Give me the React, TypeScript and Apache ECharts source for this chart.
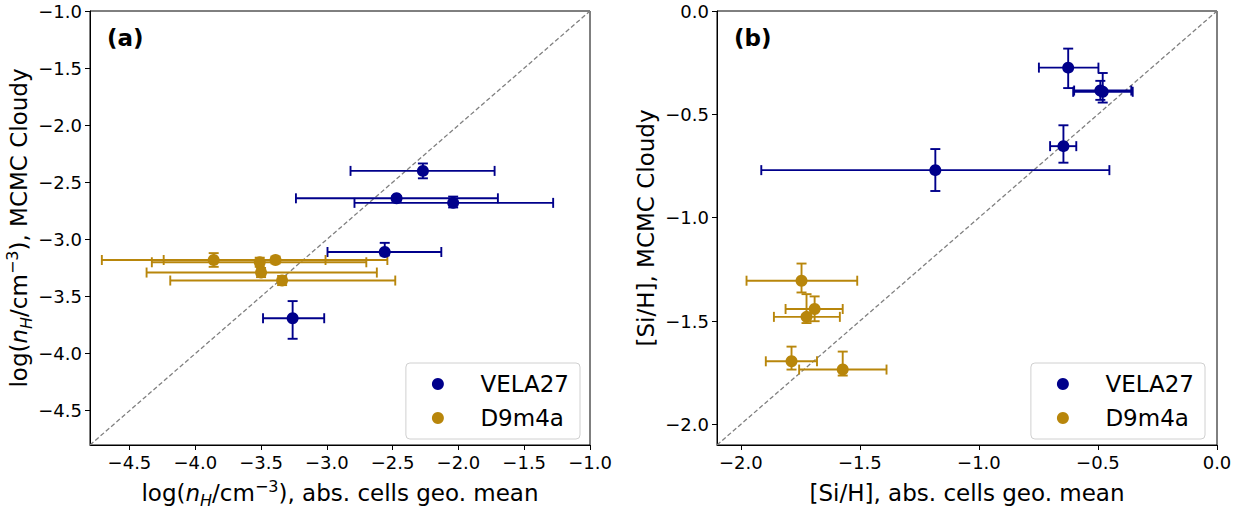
import React, { useEffect, useRef } from 'react';
import * as echarts from 'echarts';

// ---------- Panel (a): log(nH/cm^-3) ----------
const velaNx = [-2.27, -2.47, -2.04, -2.56, -3.26];
const velaNy = [-2.40, -2.64, -2.68, -3.11, -3.69];
const velaNxLo = [-2.82, -3.235, -2.79, -2.995, -3.485];
const velaNxHi = [-1.725, -1.70, -1.28, -2.13, -3.02];
const velaNyLo = [-2.465, -2.66, -2.72, -3.14, -3.87];
const velaNyHi = [-2.335, -2.62, -2.625, -3.03, -3.54];

const d9Nx = [-3.86, -3.51, -3.39, -3.50, -3.34];
const d9Ny = [-3.18, -3.20, -3.18, -3.29, -3.36];
const d9NxLo = [-4.71, -4.33, -4.24, -4.37, -4.19];
const d9NxHi = [-3.01, -2.70, -2.54, -2.62, -2.48];
const d9NyLo = [-3.24, -3.24, -3.21, -3.33, -3.40];
const d9NyHi = [-3.12, -3.16, -3.15, -3.25, -3.32];

// ---------- Panel (b): [Si/H] ----------
const velaSx = [-0.625, -0.48, -0.645, -1.183, -0.49];
const velaSy = [-0.274, -0.391, -0.654, -0.770, -0.385];
const velaSxLo = [-0.748, -0.604, -0.701, -1.914, -0.60];
const velaSxHi = [-0.498, -0.354, -0.591, -0.452, -0.36];
const velaSyLo = [-0.373, -0.443, -0.734, -0.871, -0.43];
const velaSyHi = [-0.182, -0.30, -0.553, -0.668, -0.338];

const d9Sx = [-1.745, -1.690, -1.724, -1.787, -1.572];
const d9Sy = [-1.305, -1.442, -1.480, -1.695, -1.735];
const d9SxLo = [-1.976, -1.812, -1.861, -1.895, -1.755];
const d9SxHi = [-1.511, -1.572, -1.584, -1.680, -1.388];
const d9SyLo = [-1.362, -1.501, -1.51, -1.735, -1.764];
const d9SyHi = [-1.222, -1.381, -1.37, -1.624, -1.648];

// ---------- axes ----------
const ticksA = [-4.5, -4.0, -3.5, -3.0, -2.5, -2.0, -1.5, -1.0];
const ticksB = [-2.0, -1.5, -1.0, -0.5, 0.0];
const rangeA = [-4.8, -1.0];
const rangeB = [-2.1, 0.0];
const seriesNames = ['VELA27', 'D9m4a'];
const BLUE = '#00008b';
const GOLD = '#b8860b';
const FONT = 'DejaVu Sans';

const fmt = (v: number) => v.toFixed(1).replace('-', '\u2212');

const pts = (x: number[], y: number[]) => x.map((v, i) => [v, y[i]]);
const errs = (x: number[], y: number[], xl: number[], xh: number[], yl: number[], yh: number[]) =>
  x.map((v, i) => [v, y[i], xl[i], xh[i], yl[i], yh[i]]);

const errRender = (params: any, api: any) => {
  const x = api.value(0), y = api.value(1);
  const pL = api.coord([api.value(2), y]);
  const pR = api.coord([api.value(3), y]);
  const pB = api.coord([x, api.value(4)]);
  const pT = api.coord([x, api.value(5)]);
  const style = { stroke: api.visual('color'), lineWidth: 1.9, fill: 'none' };
  const cap = 5;
  const ln = (x1: number, y1: number, x2: number, y2: number) => ({ type: 'line', shape: { x1, y1, x2, y2 }, style });
  return {
    type: 'group',
    children: [
      ln(pL[0], pL[1], pR[0], pR[1]),
      ln(pL[0], pL[1] - cap, pL[0], pL[1] + cap),
      ln(pR[0], pR[1] - cap, pR[0], pR[1] + cap),
      ln(pB[0], pB[1], pT[0], pT[1]),
      ln(pB[0] - cap, pB[1], pB[0] + cap, pB[1]),
      ln(pT[0] - cap, pT[1], pT[0] + cap, pT[1]),
    ],
  };
};

const NAME_FS = 23;
const SUB_FS = 16;
const nameRich = {
  t: { fontSize: NAME_FS, fontFamily: FONT, color: '#000', lineHeight: 30, verticalAlign: 'middle' },
  i: { fontSize: NAME_FS, fontFamily: FONT, color: '#000', fontStyle: 'italic', lineHeight: 30, verticalAlign: 'middle' },
  s: { fontSize: SUB_FS, fontFamily: FONT, color: '#000', fontStyle: 'italic', lineHeight: 16, verticalAlign: 'bottom' },
  p: { fontSize: SUB_FS, fontFamily: FONT, color: '#000', lineHeight: 16, verticalAlign: 'top' },
};

const makeAxis = (idx: number, range: number[], ticks: number[], name: string, gap: number) => ({
  gridIndex: idx,
  type: 'value',
  min: range[0],
  max: range[1],
  name,
  nameLocation: 'middle',
  nameGap: gap,
  nameTextStyle: { fontSize: NAME_FS, fontFamily: FONT, color: '#000', lineHeight: 30, rich: nameRich },
  axisLine: { show: true, onZero: false, lineStyle: { color: '#000', width: 1 } },
  axisTick: { show: true, length: 5, customValues: ticks, lineStyle: { color: '#000', width: 1 } },
  axisLabel: {
    customValues: ticks,
    formatter: fmt,
    fontSize: 18,
    fontFamily: FONT,
    color: '#000',
    margin: 8,
  },
  splitLine: { show: false },
});

const legendBase = {
  orient: 'vertical',
  top: 363,
  icon: 'circle',
  itemWidth: 40,
  itemHeight: 12,
  itemGap: 8,
  padding: [8, 11, 8, 26],
  borderColor: '#d0d0d0',
  borderWidth: 1,
  borderRadius: 4,
  backgroundColor: 'rgba(255,255,255,0.8)',
  textStyle: { fontSize: 23, fontFamily: FONT, color: '#000', padding: [0, 0, 0, 17.5], lineHeight: 26 },
  data: seriesNames,
  selectedMode: false,
};

const option: any = {
  animation: false,
  backgroundColor: '#fff',
  textStyle: { fontFamily: FONT },
  title: [
    { text: '(a)', left: 107, top: 26, padding: 0, textStyle: { fontSize: 23, fontWeight: 'bold', fontFamily: FONT, color: '#000' } },
    { text: '(b)', left: 734, top: 26, padding: 0, textStyle: { fontSize: 23, fontWeight: 'bold', fontFamily: FONT, color: '#000' } },
  ],
  legend: [
    { ...legendBase, right: 1253 - 580 },
    { ...legendBase, right: 1253 - 1205 },
  ],
  grid: [
    { left: 90, top: 11, width: 500, height: 439, show: true, borderColor: '#000', borderWidth: 1, backgroundColor: 'transparent' },
    { left: 717, top: 11, width: 500, height: 439, show: true, borderColor: '#000', borderWidth: 1, backgroundColor: 'transparent' },
  ],
  xAxis: [
    makeAxis(0, rangeA, ticksA, '{t|log(}{i|n}{s|H}{t|/cm}{p|\u22123}{t|), abs. cells geo. mean}', 33),
    makeAxis(1, rangeB, ticksB, '[Si/H], abs. cells geo. mean', 33),
  ],
  yAxis: [
    makeAxis(0, rangeA, ticksA, '{t|log(}{i|n}{s|H}{t|/cm}{p|\u22123}{t|), MCMC Cloudy}', 53),
    makeAxis(1, rangeB, ticksB, '[Si/H], MCMC Cloudy', 55),
  ],
  series: [
    { type: 'line', xAxisIndex: 0, yAxisIndex: 0, data: [[rangeA[0], rangeA[0]], [rangeA[1], rangeA[1]]], symbol: 'none', silent: true, z: 1,
      lineStyle: { color: '#808080', width: 1.3, type: [4.5, 2.5] } },
    { type: 'line', xAxisIndex: 1, yAxisIndex: 1, data: [[rangeB[0], rangeB[0]], [rangeB[1], rangeB[1]]], symbol: 'none', silent: true, z: 1,
      lineStyle: { color: '#808080', width: 1.3, type: [4.5, 2.5] } },

    { name: 'VELA27 err a', type: 'custom', xAxisIndex: 0, yAxisIndex: 0, renderItem: errRender, itemStyle: { color: BLUE }, z: 2,
      encode: { x: 0, y: 1 }, data: errs(velaNx, velaNy, velaNxLo, velaNxHi, velaNyLo, velaNyHi) },
    { name: 'D9m4a err a', type: 'custom', xAxisIndex: 0, yAxisIndex: 0, renderItem: errRender, itemStyle: { color: GOLD }, z: 2,
      encode: { x: 0, y: 1 }, data: errs(d9Nx, d9Ny, d9NxLo, d9NxHi, d9NyLo, d9NyHi) },
    { name: 'VELA27 err b', type: 'custom', xAxisIndex: 1, yAxisIndex: 1, renderItem: errRender, itemStyle: { color: BLUE }, z: 2,
      encode: { x: 0, y: 1 }, data: errs(velaSx, velaSy, velaSxLo, velaSxHi, velaSyLo, velaSyHi) },
    { name: 'D9m4a err b', type: 'custom', xAxisIndex: 1, yAxisIndex: 1, renderItem: errRender, itemStyle: { color: GOLD }, z: 2,
      encode: { x: 0, y: 1 }, data: errs(d9Sx, d9Sy, d9SxLo, d9SxHi, d9SyLo, d9SyHi) },

    { name: 'VELA27', type: 'scatter', xAxisIndex: 0, yAxisIndex: 0, symbol: 'circle', symbolSize: 12, itemStyle: { color: BLUE, opacity: 1 }, z: 3,
      data: pts(velaNx, velaNy) },
    { name: 'D9m4a', type: 'scatter', xAxisIndex: 0, yAxisIndex: 0, symbol: 'circle', symbolSize: 12, itemStyle: { color: GOLD, opacity: 1 }, z: 3,
      data: pts(d9Nx, d9Ny) },
    { name: 'VELA27', type: 'scatter', xAxisIndex: 1, yAxisIndex: 1, symbol: 'circle', symbolSize: 12, itemStyle: { color: BLUE, opacity: 1 }, z: 3,
      data: pts(velaSx, velaSy) },
    { name: 'D9m4a', type: 'scatter', xAxisIndex: 1, yAxisIndex: 1, symbol: 'circle', symbolSize: 12, itemStyle: { color: GOLD, opacity: 1 }, z: 3,
      data: pts(d9Sx, d9Sy) },
  ],
};

export default function App() {
  const ref = useRef<HTMLDivElement>(null);
  useEffect(() => {
    const chart = echarts.init(ref.current as HTMLDivElement, null, { renderer: 'svg' });
    chart.setOption(option);
    return () => chart.dispose();
  }, []);
  return <div ref={ref} style={{ position: 'fixed', left: 0, top: 0, width: 1253, height: 513, background: '#fff' }} />;
}
